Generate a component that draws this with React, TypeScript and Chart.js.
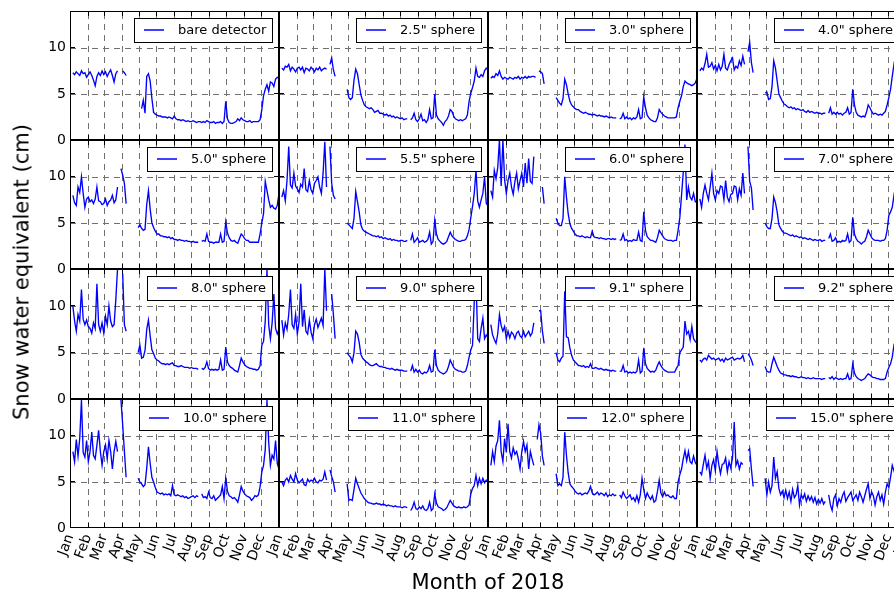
import React, { useEffect, useRef } from 'react';
import { Chart, registerables } from 'chart.js';

Chart.register(...registerables);

// ---------- data ----------
// day of year (Jan 1 = 0); 108 is the spring gap
const DAYS = [
  5, 8, 11, 14, 17, 20, 23, 26, 29, 32, 35, 38, 41, 44, 47, 50, 53, 56, 59, 62,
  65, 68, 71, 74, 77, 80, 83, 86, 89, 92, 95, 98,
  108,
  119, 122, 125, 128, 131, 134, 137, 140, 143, 146,
  149, 152, 155, 158, 161, 164, 167, 170, 173, 176,
  179, 182, 185, 188, 191, 194, 197, 200, 203, 206,
  209, 212, 215, 218, 221, 224, 227, 230, 233, 236,
  239, 242, 245, 248, 251, 254, 257, 260, 263, 266,
  269, 272, 275, 278, 281, 284, 287, 290, 293, 296,
  299, 302, 305, 308, 311, 314, 317, 320, 323, 326,
  329, 332, 335, 338, 341, 344, 347, 350, 353, 356,
  359, 362, 365,
];

const MONTH_TICKS = [0, 31, 59, 90, 120, 151, 181, 212, 243, 273, 304, 334, 365];
const MONTH_LABELS = ['Jan', 'Feb', 'Mar', 'Apr', 'May', 'Jun', 'Jul', 'Aug', 'Sep', 'Oct', 'Nov', 'Dec', 'Jan'];
const Y_TICKS = [0, 5, 10];

const PANEL_LABELS = [
  'bare detector', '2.5" sphere', '3.0" sphere', '4.0" sphere',
  '5.0" sphere', '5.5" sphere', '6.0" sphere', '7.0" sphere',
  '8.0" sphere', '9.0" sphere', '9.1" sphere', '9.2" sphere',
  '10.0" sphere', '11.0" sphere', '12.0" sphere', '15.0" sphere',
];

const BARE = [
  7.3, 7.1, 7.4, 7.2, 7.0, 7.5, 7.2, 7.3, 6.8, 7.1, 7.4, 7.0, 6.5, 5.9, 6.9, 7.3, 7.0, 7.5, 7.1, 7.4,
  6.9, 7.3, 7.6, 7.0, 6.3, 7.2, 7.5, null, null, 7.5, 7.3, 7.0,
  null,
  5.1, null, 3.4, 4.3, 2.9, 6.9, 7.2, 6.4, 4.5, 3.0,
  2.8, 2.7, 2.6, 2.6, 2.5, 2.5, 2.5, 2.4, 2.5, 2.4,
  2.3, 2.6, 2.3, 2.2, 2.2, 2.1, 2.2, 2.1, 2.0, 2.1,
  2.0, 2.0, 2.1, 2.0, 1.9, 2.0, 2.0, 1.9, 2.0, 1.9,
  2.1, 2.0, 1.9, 1.9, 2.0, 1.8, 1.9, 1.9, 2.0, 1.8,
  2.0, 4.2, 2.3, 1.9, 1.8, 1.8, 1.9, 2.0, 2.3, 2.1,
  2.4, 2.2, 2.1, 2.0, 2.0, 2.1, 1.9, 2.0, 2.0, 2.0,
  2.0, 2.2, 3.3, 4.8, 5.5, 6.0, 5.3, 6.3, 6.2, 5.8,
  6.6, 6.8, 6.7,
];

const S25 = [
  7.8, 7.6, 8.0, 7.9, 8.2, 7.5, 7.9, 7.7, 7.4, 7.8, 7.9, 7.6, 7.9, 7.3, 7.8, 7.7, 7.5, 7.9, 7.7, 7.4,
  7.8, 7.6, 7.9, 7.5, 7.7, 7.8, 7.7, null, 8.2, 8.9, 7.6, 6.9,
  null,
  5.5, 4.6, 4.4, 4.6, 6.5, 7.7, 7.2, 6.0, 4.9, 4.3,
  3.8, 3.6, 3.5, 3.4, 3.5, 3.3, 3.0, 3.1, 3.2, 2.9,
  2.9, 2.8, 2.7, 2.8, 2.6, 2.7, 2.5, 2.6, 2.4, 2.5,
  2.4, 2.3, 2.4, 2.2, 2.3, 2.3, null, 2.2, 2.4, 2.9,
  2.2, 2.0, 2.3, 2.8, 2.1, 2.2, 1.9, 2.2, 3.3, 2.3,
  2.4, 5.0, 2.7, 2.3, 2.1, 1.9, 1.6, 2.0, 2.2, 2.6,
  3.3, 3.1, 2.6, 2.3, 2.2, 2.1, 2.2, 2.1, 2.2, 2.3,
  2.7, 4.2, 5.1, 5.7, 6.4, 7.8, 6.9, 6.8, 7.1, 6.9,
  7.5, 7.8, 7.6,
];

const S30 = [
  6.7, 6.9, 6.8, 7.2, 7.0, 7.5, 6.9, 6.6, 6.8, 6.7, 6.6, 6.8, 6.7, 6.6, 6.8, 6.7, 6.9, 6.6, 6.8, 6.7,
  6.9, 6.7, 6.9, 6.8, 6.9, 6.9, 6.8, null, 7.5, 7.4, 7.2, 6.1,
  null,
  4.6, 4.3, 4.0, 3.8, 4.5, 6.6, 6.0, 5.0, 4.2, 3.8,
  3.6, 3.4, 3.3, 3.3, 3.1, 3.0, 2.9, 3.0, 2.9, 2.8,
  2.8, 2.7, 2.8, 2.7, 2.6, 2.7, 2.6, 2.6, 2.5, 2.6,
  2.5, 2.4, 2.5, 2.4, 2.4, 2.4, null, 2.3, 2.4, 2.9,
  2.3, 2.5, 2.3, 2.4, 2.2, 2.4, 2.3, 2.5, 3.3, 2.3,
  2.4, 4.7, 3.5, 2.7, 2.4, 2.2, 2.1, 2.0, 2.0, 2.4,
  3.3, 3.0, 2.8, 2.6, 2.5, 2.4, 2.4, 2.4, 2.4, 2.4,
  2.5, 3.5, 4.2, 4.8, 5.8, 6.4, 6.2, 6.1, 6.0, 5.9,
  6.0, 6.2, 6.7,
];

const S40 = [
  7.5, 7.8, 7.6, 8.3, 9.3, 7.9, 8.0, 8.4, 7.7, 8.1, 7.5, 8.2, 7.6, 8.0, 9.3, 7.8, 7.6, 8.2, 8.6, 8.9,
  7.6, 8.0, 7.8, 8.6, 8.1, 9.1, 8.2, null, 9.6, 10.6, 8.4, 7.3,
  null,
  5.1, 5.2, 4.4, 4.5, 5.8, 8.6, 7.8, 6.4, 5.0, 4.6,
  4.2, 3.9, 3.8, 3.6, 3.5, 3.6, 3.4, 3.5, 3.3, 3.4,
  3.3, 3.2, 3.3, 3.1, 3.0, 3.2, 3.0, 3.1, 3.0, 2.9,
  3.0, 2.9, 2.9, 2.8, 2.9, 2.9, null, 2.9, 3.5, 2.8,
  3.0, 2.8, 3.0, 2.8, 2.9, 2.7, 2.9, 3.0, 3.5, 2.8,
  3.0, 5.5, 3.8, 3.0, 2.7, 2.6, 2.5, 2.6, 2.5, 3.0,
  3.8, 3.5, 3.1, 2.8, 2.9, 2.8, 2.7, 2.8, 2.7, 2.9,
  3.1, 3.8, 4.6, 5.5, 6.9, 8.2, 7.4, 7.6, 7.0, 7.8,
  7.2, 7.5, 7.9,
];

const S50 = [
  8.0, 7.2, 6.9, 8.9, 8.3, 10.0, 8.2, 6.7, 7.6, 7.8, 7.3, 7.5, 7.1, 7.6, 8.9, 7.4, 7.3, 7.0, 7.1, 7.6,
  6.9, 7.3, 7.5, 8.0, 7.2, 7.5, 8.9, null, 10.9, 10.2, 9.3, 7.1,
  null,
  4.5, 4.8, 4.4, 4.2, 4.3, 7.0, 8.5, 6.5, 5.0, 4.5,
  4.1, 3.8, 3.8, 3.6, 3.6, 3.5, 3.5, 3.4, 3.5, 3.3,
  3.4, 3.2, 3.2, 3.1, 3.2, 3.1, 3.1, 3.0, 3.1, 3.0,
  3.0, 2.9, 3.0, 2.9, 2.9, 2.9, null, 3.0, 3.1, 3.0,
  3.8, 3.0, 2.9, 2.9, 2.8, 2.9, 2.9, 2.9, 3.8, 2.9,
  3.0, 5.1, 3.9, 3.4, 3.1, 3.0, 3.1, 2.9, 2.8, 3.3,
  3.8, 3.6, 3.3, 3.1, 3.1, 2.9, 2.9, 2.9, 2.9, 2.9,
  2.9, 3.8, 5.0, 6.0, 9.5, 8.5, 7.5, 6.7, 6.9, 6.6,
  6.5, 6.9, 8.2,
];

const S55 = [
  7.8, 8.5, 7.4, 9.6, 13.3, 9.1, 8.8, 10.4, 9.0, 8.7, 8.3, 9.2, 8.9, 10.9, 8.6, 8.4, 9.6, 8.6, 8.2, 9.3,
  9.6, 10.0, 8.9, 8.2, 10.4, 13.8, 8.9, null, 13.3, 9.3, 8.0, 7.6,
  null,
  5.0, 4.8, 4.6, 4.4, 5.5, 8.4, 7.3, 6.2, 4.8, 4.3,
  4.1, 4.0, 3.9, 3.8, 3.7, 3.6, 3.6, 3.5, 3.6, 3.4,
  3.5, 3.3, 3.4, 3.3, 3.2, 3.3, 3.1, 3.2, 3.1, 3.1,
  3.0, 3.1, 3.1, 3.0, 3.0, 3.1, null, 3.1, 3.8, 2.9,
  3.1, 3.4, 2.9, 3.0, 3.1, 2.9, 3.0, 3.2, 4.0, 2.7,
  3.0, 5.3, 3.8, 3.2, 3.0, 2.8, 2.7, 2.8, 3.0, 3.5,
  4.0, 3.6, 3.4, 3.2, 3.1, 3.0, 3.0, 3.1, 3.1, 3.2,
  3.6, 4.3, 5.6, 6.8, 8.2, 10.7, 7.4, 6.7, 7.5, 8.2,
  10.0, 7.1, 6.9,
];

const S60 = [
  8.5, 7.8, 10.7, 9.8, 11.0, 14.0, 9.0, 14.0, 9.7, 8.2, 9.6, 10.4, 8.9, 8.1, 9.5, 10.4, 8.7, 9.6, 10.4, 8.9,
  11.5, 9.3, 12.0, 9.5, 9.3, 12.2, null, null, null, null, 8.9, 7.1,
  null,
  5.5, 5.0, 4.7, 4.7, 5.5, 10.0, 7.8, 6.0, 4.9, 4.4,
  4.1, 3.8, 3.6, 3.6, 3.5, 3.6, 3.5, 3.4, 3.5, 3.4,
  3.4, 4.1, 3.5, 3.4, 3.4, 3.3, 3.4, 3.3, 3.3, 3.2,
  3.3, 3.3, 3.2, 3.3, 3.2, 3.3, null, 3.1, 3.2, 3.8,
  3.1, 3.2, 3.0, 3.1, 3.0, 3.2, 3.1, 3.1, 4.0, 3.1,
  3.0, 6.2, 4.2, 3.5, 3.3, 3.1, 3.1, 3.0, 2.9, 3.4,
  4.2, 3.9, 3.6, 3.3, 3.2, 3.1, 3.1, 3.1, 3.0, 3.1,
  3.1, 4.2, 5.6, 8.0, 10.5, 13.5, 7.5, 8.9, 7.8, 7.5,
  8.2, 7.3, 7.3,
];

const S70 = [
  7.6, 6.7, 8.2, 9.1, 8.2, 7.5, 8.9, 10.4, 8.2, 7.5, 8.5, 8.2, 9.0, 8.9, 7.5, 9.6, 7.8, 7.3, 8.1, 8.2,
  9.0, 8.9, 7.5, 8.7, 8.0, 10.4, 8.2, null, 13.3, 9.5, 8.8, 6.4,
  null,
  5.0, 4.6, 4.4, 4.4, 5.5, 7.8, 7.2, 6.2, 4.8, 4.4,
  4.1, 3.9, 3.9, 3.8, 3.7, 3.6, 3.7, 3.5, 3.6, 3.5,
  3.4, 3.5, 3.3, 3.4, 3.3, 3.2, 3.3, 3.2, 3.1, 3.2,
  3.1, 3.1, 3.2, 3.0, 3.1, 3.1, null, 3.3, 3.8, 3.0,
  3.1, 3.4, 2.9, 3.0, 2.9, 3.1, 3.0, 3.1, 3.8, 2.9,
  3.1, 5.6, 3.8, 3.3, 3.0, 2.9, 2.7, 2.9, 3.0, 3.5,
  4.2, 3.8, 3.4, 3.2, 3.1, 3.1, 3.1, 3.0, 3.1, 3.1,
  3.3, 4.2, 5.8, 6.2, 6.7, 8.0, 7.2, 7.6, 6.9, 7.8,
  7.3, 7.7, 8.0,
];

const S80 = [
  10.0, 8.4, 7.3, 9.1, 8.4, 11.8, 8.6, 8.0, 8.5, 7.8, 7.6, 7.1, 8.2, 7.6, 12.4, 8.0, 7.3, 8.2, 7.1, 8.9,
  8.0, 10.0, 8.4, 7.8, 8.0, 10.7, 14.0, null, null, 13.5, 8.0, 7.3,
  null,
  5.0, 5.8, 4.4, 4.5, 5.2, 7.5, 8.5, 6.8, 5.3, 4.9,
  4.4, 4.2, 4.1, 3.9, 3.8, 3.8, 3.7, 3.8, 3.7, 3.8,
  3.9, 3.6, 3.6, 3.5, 3.5, 3.6, 3.5, 3.4, 3.4, 3.4,
  3.3, 3.4, 3.3, 3.3, 3.3, 3.2, null, 3.3, 3.2, 3.4,
  4.0, 3.3, 3.1, 3.2, 3.1, 3.2, 3.1, 3.2, 4.2, 3.1,
  3.2, 5.6, 4.0, 3.6, 3.4, 3.3, 3.1, 3.0, 2.9, 3.6,
  4.4, 4.0, 3.7, 3.5, 3.4, 3.3, 3.3, 3.2, 3.2, 3.1,
  3.2, 3.6, 5.8, 6.2, 8.4, 14.0, 8.0, 6.5, 8.2, 11.3,
  7.6, 7.0, 7.5,
];

const S90 = [
  8.5, 6.9, 8.2, 7.5, 9.1, 11.8, 8.0, 7.6, 9.1, 7.0, 8.3, 12.4, 7.8, 9.6, 7.3, 7.0, 8.5, 7.2, 6.5, 8.0,
  8.6, 7.7, 8.2, 8.7, 7.9, 14.0, 9.5, null, null, 11.3, 9.1, 6.5,
  null,
  5.0, 4.7, 4.5, 4.0, 5.0, 7.3, 7.0, 6.1, 4.8, 4.4,
  4.2, 4.0, 3.9, 3.7, 3.6, 3.6, 3.7, 3.8, 3.6, 3.5,
  3.5, 3.4, 3.4, 3.3, 3.3, 3.2, 3.3, 3.2, 3.1, 3.2,
  3.1, 3.1, 3.1, 3.0, 3.0, 3.0, null, 3.0, 3.6, 2.9,
  3.2, 2.9, 3.1, 2.8, 2.7, 2.9, 2.8, 3.0, 3.6, 2.9,
  3.0, 5.3, 3.6, 3.1, 2.9, 2.8, 2.7, 2.8, 3.0, 3.5,
  4.2, 3.8, 3.4, 3.2, 3.1, 3.0, 3.0, 2.9, 2.9, 3.0,
  3.6, 4.5, 5.3, 5.8, 10.5, 13.0, 6.5, 6.2, 7.6, 8.7,
  6.5, 6.9, 6.6,
];

const S91 = [
  8.0, 6.9, 6.4, 6.0, 7.0, 9.1, 7.9, 7.3, 7.8, 6.5, 7.3, 6.6, 7.2, 7.0, 6.5, 7.1, 7.3, 6.8, 6.6, 7.3,
  6.7, 7.0, 7.3, 6.8, 7.1, 8.2, null, null, 9.5, 9.5, 7.3, 6.0,
  null,
  5.0, 4.2, 4.0, 4.4, 4.6, 11.6, 6.7, 6.6, 5.5, 4.7,
  4.2, 4.0, 3.8, 3.6, 3.6, 3.5, 3.6, 3.4, 3.5, 3.4,
  3.8, 3.3, 3.3, 3.4, 3.3, 3.2, 3.3, 3.2, 3.1, 3.2,
  3.1, 3.1, 3.0, 3.1, 3.0, 3.0, null, 3.0, 3.0, 3.6,
  2.9, 3.0, 2.8, 2.9, 2.8, 2.9, 2.8, 3.0, 4.2, 2.8,
  3.0, 5.5, 3.8, 3.3, 3.1, 2.9, 3.0, 2.9, 3.1, 3.6,
  4.0, 3.6, 3.3, 3.1, 3.0, 2.9, 2.9, 2.9, 2.9, 2.9,
  3.3, 3.6, 5.0, 5.3, 5.6, 8.4, 7.0, 7.3, 6.4, 7.8,
  6.5, 6.2, 6.0,
];

const S92 = [
  4.2, 4.0, 4.3, 4.4, 4.2, 4.7, 4.5, 4.3, 4.4, 4.2, 4.3, 4.4, 4.1, 4.3, 4.0, 4.4, 4.2, 4.3, 4.4, 4.5,
  4.2, 4.3, 4.4, 4.3, 4.4, 4.7, 4.0, null, 4.9, 4.6, 4.2, 3.6,
  null,
  3.5, 3.0, 2.9, 2.9, 3.8, 4.5, 4.0, 3.5, 3.1, 2.8,
  2.7, 2.6, 2.6, 2.5, 2.5, 2.4, 2.5, 2.4, 2.4, 2.3,
  2.3, 2.4, 2.3, 2.3, 2.2, 2.3, 2.2, 2.2, 2.3, 2.2,
  2.2, 2.2, 2.2, 2.1, 2.2, 2.2, null, 2.3, 2.2, 2.4,
  2.1, 2.3, 2.2, 2.1, 2.2, 2.1, 2.2, 2.2, 2.7, 2.1,
  2.2, 3.8, 2.8, 2.4, 2.2, 2.1, 2.0, 2.1, 2.2, 2.5,
  2.7, 2.6, 2.4, 2.3, 2.3, 2.2, 2.2, 2.1, 2.1, 2.1,
  2.2, 2.9, 3.4, 3.8, 4.5, 5.8, 5.5, 6.0, 5.6, 5.9,
  6.2, 5.8, 6.0,
];

const S100 = [
  8.3, 7.2, 9.6, 7.8, 9.7, 13.9, 8.2, 7.7, 9.5, 7.2, 8.3, 10.4, 7.9, 7.5, 9.0, 10.6, 8.3, 6.8, 8.3, 9.0,
  7.5, 9.5, 8.3, 6.4, 8.3, 9.4, 8.3, null, 13.9, 11.2, 8.3, 5.5,
  null,
  5.4, 5.0, 4.8, 4.5, 4.7, 6.5, 8.8, 7.0, 5.5, 5.0,
  4.4, 3.9, 3.8, 3.7, 3.8, 3.6, 3.7, 3.6, 3.7, 3.5,
  4.6, 3.6, 3.5, 3.6, 3.5, 3.4, 3.5, 3.3, 3.4, 3.2,
  3.3, 3.4, 3.5, 3.3, 3.5, 3.4, null, 3.7, 3.3, 3.4,
  3.2, 3.9, 3.3, 3.2, 3.5, 3.0, 3.2, 3.4, 3.6, 4.5,
  3.2, 5.4, 4.0, 3.5, 3.4, 3.2, 3.3, 3.1, 2.8, 3.6,
  4.5, 4.0, 3.7, 3.5, 3.4, 3.3, 3.0, 3.2, 3.5, 3.4,
  3.6, 4.5, 6.1, 6.8, 8.5, 13.9, 9.3, 6.8, 7.9, 7.5,
  9.5, 7.0, 6.4,
];

const S110 = [
  5.0, 4.6, 5.2, 5.4, 5.0, 5.7, 5.3, 5.0, 5.9, 5.2, 4.9, 5.1, 5.3, 4.7, 4.6, 5.3, 5.0, 5.2, 5.1, 5.4,
  5.0, 4.9, 5.2, 5.1, 5.3, 6.1, 5.2, null, 6.3, 5.6, 5.0, 3.9,
  null,
  4.8, 3.0, 3.1, 3.0, 4.2, 5.4, 4.8, 4.3, 3.8, 3.5,
  3.2, 3.0, 2.8, 2.7, 2.7, 2.6, 2.6, 2.7, 2.6, 2.6,
  2.5, 2.6, 2.5, 2.4, 2.5, 2.4, 2.4, 2.3, 2.4, 2.3,
  2.3, 2.3, 2.2, 2.3, 2.3, 2.2, null, 1.9, 2.2, 2.8,
  2.1, 2.0, 2.3, 2.1, 2.4, 2.0, 1.9, 2.1, 2.8, 1.9,
  2.1, 3.7, 2.7, 2.3, 2.2, 2.1, 1.9, 2.0, 2.2, 2.6,
  3.0, 2.7, 2.4, 2.3, 2.2, 2.3, 2.2, 2.2, 2.3, 2.2,
  2.3, 2.5, 3.7, 4.3, 4.6, 5.7, 4.6, 5.4, 4.8, 5.4,
  4.9, 5.2, 5.0,
];

const S120 = [
  6.8, 8.3, 7.2, 8.9, 9.5, 11.7, 8.3, 7.2, 9.7, 8.2, 11.3, 8.3, 7.6, 8.7, 8.0, 8.3, 7.5, 6.4, 8.3, 9.4,
  8.3, 9.0, 6.4, 8.3, 7.5, 6.8, null, 9.6, 11.2, 10.3, 7.8, 6.8,
  null,
  5.9, 4.6, 4.8, 4.6, 5.5, 10.4, 7.9, 6.0, 4.8, 4.5,
  4.3, 4.0, 3.8, 3.7, 3.8, 3.6, 3.7, 3.8, 3.7, 4.0,
  4.5, 3.8, 3.6, 3.7, 3.9, 3.6, 3.8, 3.7, 3.5, 3.8,
  3.4, 3.6, 3.5, 3.7, 3.5, 3.6, null, 3.6, 3.3, 3.9,
  3.5, 3.2, 3.4, 3.6, 3.1, 3.3, 2.9, 3.5, 2.8, 3.6,
  5.4, 4.2, 3.2, 3.8, 3.4, 3.1, 3.5, 2.8, 3.0, 4.0,
  5.2, 3.8, 3.4, 3.9, 3.5, 3.6, 3.4, 3.3, 3.5, 3.2,
  3.2, 5.0, 5.8, 6.4, 7.5, 8.4, 7.3, 8.3, 7.2, 7.0,
  7.8, 7.1, 6.8,
];

const S150 = [
  6.1, 5.8, 6.9, 7.9, 6.5, 7.2, 5.4, 6.8, 7.4, 6.2, 8.3, 6.9, 5.9, 6.9, 7.0, 7.6, 6.1, 7.2, 6.5, 7.6,
  11.5, 6.8, 7.3, 6.4, 7.1, 6.9, null, null, 8.4, 8.6, 6.4, 4.5,
  null,
  5.4, 3.6, 5.0, 3.9, 4.6, 7.7, 5.4, 6.1, 4.3, 3.6,
  4.0, 3.3, 4.1, 3.2, 3.9, 2.9, 4.2, 3.3, 3.6, 4.6,
  2.5, 3.6, 3.2, 3.7, 2.9, 3.5, 3.0, 3.4, 2.8, 3.3,
  2.6, 3.1, 2.7, 3.2, 2.6, 2.9, null, 3.6, 2.5, 1.9,
  3.2, 3.6, 2.4, 3.2, 2.8, 3.5, 3.9, 2.9, 3.3, 3.6,
  3.9, 3.0, 3.3, 3.6, 3.0, 3.9, 3.4, 2.8, 3.5, 4.2,
  4.8, 3.2, 3.9, 3.5, 2.5, 3.4, 3.9, 3.0, 3.6, 2.6,
  3.9, 4.8, 4.4, 5.5, 6.8, 6.2, 6.9, 6.5, 7.1, 6.6,
  7.2, 6.8, 7.0,
];

const PANEL_VALUES = [
  BARE, S25, S30, S40,
  S50, S55, S60, S70,
  S80, S90, S91, S92,
  S100, S110, S120, S150,
];

// ---------- layout / style ----------
const FONT = '"DejaVu Sans", "Liberation Sans", sans-serif';
const COL_LEFT = [70, 279, 488, 697];
const ROW_TOP = [11, 140, 269, 399];
const ROW_H = [129, 129, 130, 129];
const PANEL_W = 209;
const Y_LABEL_W = 62;
const X_LABEL_H = 50;
const PAD = 8;
const LINE_BLUE = '#0000ff';

const decorPlugin = {
  id: 'decor',
  beforeDatasetsDraw(chart: any) {
    const { ctx, chartArea: a, scales } = chart;
    ctx.save();
    ctx.strokeStyle = '#707070';
    ctx.lineWidth = 1;
    ctx.setLineDash([6, 5]);
    ctx.beginPath();
    for (const v of MONTH_TICKS) {
      if (v <= 0 || v >= 365) continue;
      const x = Math.round(scales.x.getPixelForValue(v)) + 0.5;
      ctx.moveTo(x, a.bottom);
      ctx.lineTo(x, a.top);
    }
    for (const v of Y_TICKS) {
      if (v <= 0) continue;
      const y = Math.round(scales.y.getPixelForValue(v)) + 0.5;
      ctx.moveTo(a.left, y);
      ctx.lineTo(a.right, y);
    }
    ctx.stroke();
    ctx.restore();
  },
  afterDraw(chart: any, _args: any, opts: any) {
    const { ctx, chartArea: a, scales } = chart;
    ctx.save();
    ctx.setLineDash([]);
    ctx.strokeStyle = '#000';
    ctx.lineWidth = 1;
    const TL = 5;
    ctx.beginPath();
    for (const v of MONTH_TICKS) {
      const x = Math.round(scales.x.getPixelForValue(v)) + 0.5;
      ctx.moveTo(x, a.bottom);
      ctx.lineTo(x, a.bottom - TL);
      ctx.moveTo(x, a.top);
      ctx.lineTo(x, a.top + TL);
    }
    for (const v of Y_TICKS) {
      const y = Math.round(scales.y.getPixelForValue(v)) - 0.5;
      ctx.moveTo(a.left, y);
      ctx.lineTo(a.left + TL, y);
      ctx.moveTo(a.right, y);
      ctx.lineTo(a.right - TL, y);
    }
    ctx.stroke();
    ctx.strokeRect(a.left + 0.5, a.top + 0.5, a.right - a.left - 1, a.bottom - a.top - 1);

    // legend box
    const label = opts.label as string;
    ctx.font = `13px ${FONT}`;
    const tw = ctx.measureText(label).width;
    const bw = Math.round(10 + 20 + 14 + tw + 6);
    const bx = Math.round(a.right - 7 - bw);
    const by = a.top + 7;
    const bh = 24;
    ctx.fillStyle = '#fff';
    ctx.fillRect(bx + 0.5, by + 0.5, bw, bh);
    ctx.strokeStyle = '#000';
    ctx.lineWidth = 1;
    ctx.strokeRect(bx + 0.5, by + 0.5, bw, bh);
    const ly = by + 12;
    ctx.beginPath();
    ctx.strokeStyle = LINE_BLUE;
    ctx.lineWidth = 1.5;
    ctx.moveTo(bx + 10, ly);
    ctx.lineTo(bx + 30, ly);
    ctx.stroke();
    ctx.fillStyle = '#000';
    ctx.textAlign = 'left';
    ctx.textBaseline = 'middle';
    ctx.fillText(label, bx + 44, ly + 1);
    ctx.restore();
  },
};

function Panel({ index }: { index: number }) {
  const ref = useRef<HTMLCanvasElement | null>(null);
  const col = index % 4;
  const row = Math.floor(index / 4);
  const showY = col === 0;
  const showX = row === 3;
  const L = showY ? Y_LABEL_W : PAD;
  const R = 10;
  const T = PAD;
  const B = showX ? X_LABEL_H : PAD;
  const w = PANEL_W + L + R;
  const h = ROW_H[row] + T + B;

  useEffect(() => {
    const canvas = ref.current;
    if (!canvas) return;
    const values = PANEL_VALUES[index];
    const points = DAYS.map((d, i) => ({ x: d, y: values[i] === undefined ? null : values[i] }));
    const chart = new Chart(canvas, {
      type: 'line',
      data: {
        datasets: [
          {
            data: points as any,
            borderColor: LINE_BLUE,
            borderWidth: 1.35,
            pointRadius: 0,
            fill: false,
            tension: 0,
            spanGaps: false,
          },
        ],
      },
      options: {
        animation: false,
        responsive: false,
        devicePixelRatio: 1,
        events: [],
        layout: {
          padding: { left: showY ? 0 : PAD, right: R, top: T, bottom: showX ? 0 : PAD },
        },
        plugins: {
          legend: { display: false },
          tooltip: { enabled: false },
          title: { display: false },
          decor: { label: PANEL_LABELS[index] },
        } as any,
        scales: {
          x: {
            type: 'linear',
            min: 0,
            max: 365,
            grid: { display: false, drawTicks: false },
            border: { display: false },
            afterBuildTicks: (s: any) => {
              s.ticks = MONTH_TICKS.map((v) => ({ value: v }));
            },
            afterFit: (s: any) => {
              s.height = showX ? X_LABEL_H : 0;
              s.paddingLeft = 0;
              s.paddingRight = 0;
              s.paddingTop = 0;
              s.paddingBottom = 0;
            },
            ticks: {
              display: showX,
              autoSkip: false,
              minRotation: 70,
              maxRotation: 70,
              padding: 4,
              color: '#000',
              font: { size: 14, family: FONT },
              callback: (v: any) => {
                const i = MONTH_TICKS.indexOf(Number(v));
                if (i < 0) return '';
                if (col > 0 && i === 0) return '';
                return MONTH_LABELS[i];
              },
            },
          },
          y: {
            type: 'linear',
            min: 0,
            max: 14,
            grid: { display: false, drawTicks: false },
            border: { display: false },
            afterBuildTicks: (s: any) => {
              s.ticks = Y_TICKS.map((v) => ({ value: v }));
            },
            afterFit: (s: any) => {
              s.width = showY ? Y_LABEL_W : 0;
              s.paddingLeft = 0;
              s.paddingRight = 0;
              s.paddingTop = 0;
              s.paddingBottom = 0;
            },
            ticks: {
              display: showY,
              padding: 4,
              color: '#000',
              font: { size: 14, family: FONT },
            },
          },
        },
      } as any,
      plugins: [decorPlugin as any],
    });
    return () => chart.destroy();
  }, [index]);

  return (
    <canvas
      ref={ref}
      width={w}
      height={h}
      style={{
        position: 'absolute',
        left: COL_LEFT[col] - L,
        top: ROW_TOP[row] - T,
        width: w,
        height: h,
      }}
    />
  );
}

export default function App() {
  return (
    <div
      style={{
        position: 'fixed',
        left: 0,
        top: 0,
        width: 894,
        height: 592,
        overflow: 'hidden',
        background: '#fff',
        fontFamily: FONT,
      }}
    >
      {PANEL_LABELS.map((_, i) => (
        <Panel key={i} index={i} />
      ))}
      <div
        style={{
          position: 'absolute',
          left: 22,
          top: 272,
          transform: 'translate(-50%, -50%) rotate(-90deg)',
          whiteSpace: 'nowrap',
          fontSize: 21,
          lineHeight: '21px',
          color: '#000',
        }}
      >
        Snow water equivalent (cm)
      </div>
      <div
        style={{
          position: 'absolute',
          left: 488,
          top: 572,
          transform: 'translateX(-50%)',
          whiteSpace: 'nowrap',
          fontSize: 21,
          lineHeight: '21px',
          color: '#000',
        }}
      >
        Month of 2018
      </div>
    </div>
  );
}
